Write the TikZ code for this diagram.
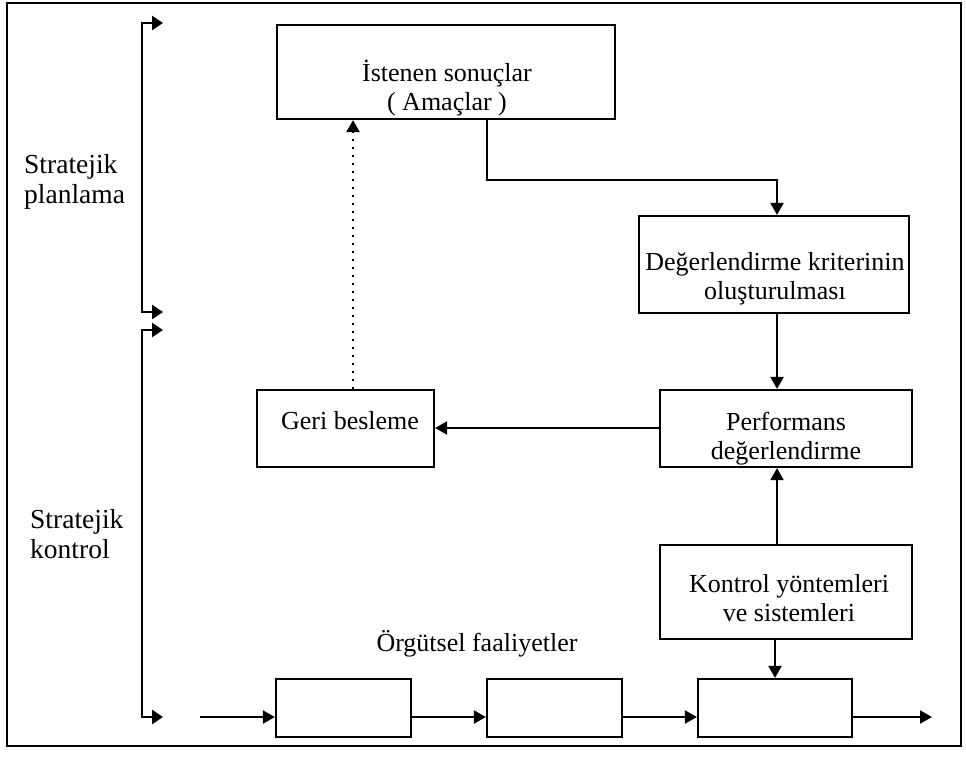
\documentclass[tikz,border=0pt]{standalone}
\usepackage{fontspec}
\setmainfont{Liberation Serif}
\usetikzlibrary{arrows.meta,calc}
\begin{document}
\begin{tikzpicture}[x=1pt,y=-1pt,
  every node/.style={font=\fontsize{26}{29}\selectfont, inner sep=0pt, align=center},
  side/.style={font=\fontsize{27.5}{30}\selectfont, anchor=west, align=left},
  blk/.style={draw, line width=2.2pt},
  conn/.style={line width=2.1pt, -{Triangle[length=12pt,width=13pt]}},
  brk/.style={line width=2.8pt, {Triangle[length=11pt,width=14pt]}-{Triangle[length=11pt,width=14pt]}},
  dotline/.style={line width=2.4pt, dash pattern=on 2.4pt off 5.6pt, -{Triangle[length=12pt,width=13pt]}}]
  % page and outer frame
  \useasboundingbox (0,0) rectangle (966,756);
  \draw[line width=1.5pt] (7,3) rectangle (961,746);

  % boxes
  \node[blk, minimum width=338, minimum height=94] (ist) at (446,72) {};
  \node[blk, minimum width=270, minimum height=97] (krit) at (774,264.5) {};
  \node[blk, minimum width=252, minimum height=77] (perf) at (786,428.5) {};
  \node[blk, minimum width=252, minimum height=94] (kont) at (786,592) {};
  \node[blk, minimum width=177, minimum height=77] (geri) at (345.5,428.5) {};
  \node[blk, minimum width=135, minimum height=58] (b1) at (343.5,708) {};
  \node[blk, minimum width=135, minimum height=58] (b2) at (554.5,708) {};
  \node[blk, minimum width=154, minimum height=58] (b3) at (775,708) {};

  % box texts
  \node (ist-t)  at (447,88)  {İstenen sonuçlar\\( Amaçlar )};
  \node (krit-t) at (775,279) {Değerlendirme kriterinin\\oluşturulması};
  \node (perf-t) at (786,439) {Performans\\değerlendirme};
  \node (kont-t) at (789,598) {Kontrol yöntemleri\\ve sistemleri};
  \node (geri-t) at (350,421) {Geri besleme};

  % labels
  \node[side] (lplan) at (24,182) {Stratejik\\planlama};
  \node[side] (lkont) at (30,534) {Stratejik\\kontrol};
  \node (lorg) at (477,644) {Örgütsel faaliyetler};

  % helper points
  \coordinate (bend) at (487,180);
  \coordinate (dotx) at (353,0);
  \coordinate (arrx) at (777,0);
  \coordinate (fby) at (0,428);
  \coordinate (flowin) at (200,717);
  \coordinate (flowout) at (932,717);
  \coordinate (flowy) at (0,717);

  % connectors
  \draw[conn] (ist.south -| bend) -- (bend) -| (krit.north -| arrx);
  \draw[conn] (krit.south -| arrx) -- (perf.north -| arrx);
  \draw[conn] (kont.north -| arrx) -- (perf.south -| arrx);
  \draw[conn] (kont.south -| b3.north) -- (b3.north);
  \draw[conn] (perf.west |- fby) -- (geri.east |- fby);
  \draw[dotline] (geri.north -| dotx) -- (ist.south -| dotx);

  % activity chain
  \draw[conn] (flowin) -- (b1.west |- flowy);
  \draw[conn] (b1.east |- flowy) -- (b2.west |- flowy);
  \draw[conn] (b2.east |- flowy) -- (b3.west |- flowy);
  \draw[conn] (b3.east |- flowy) -- (flowout);

  % side brackets
  \draw[brk] (163,23) -- (142,23) -- (142,312) -- (163,312);
  \draw[brk] (163,330) -- (142,330) -- (142,717) -- (163,717);
\end{tikzpicture}
\end{document}
